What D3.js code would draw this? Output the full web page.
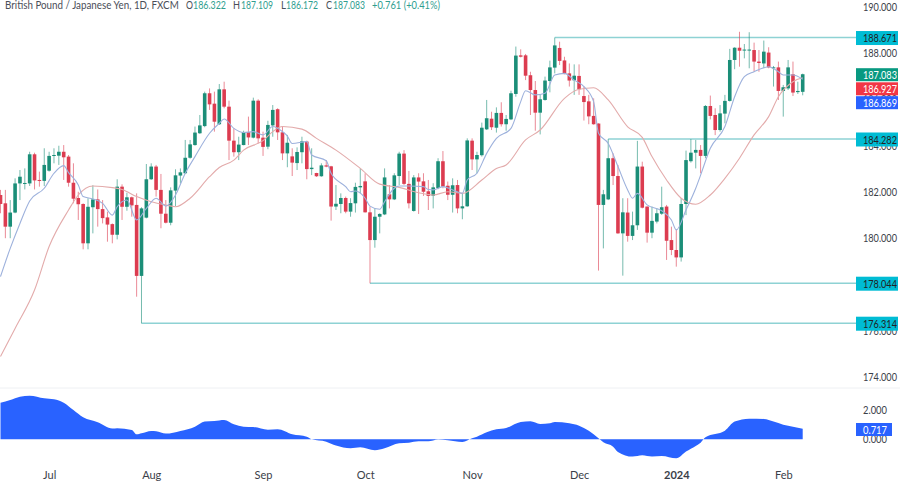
<!DOCTYPE html>
<html>
<head>
<meta charset="utf-8">
<script src="https://cdn.jsdelivr.net/npm/d3@7"></script>
<style>
  html, body { margin: 0; padding: 0; background: #fff; }
  svg { display: block; }
  text { font-family: Lato, "Open Sans", sans-serif; }
</style>
</head>
<body>
<div id="chart"></div>
<script>
// daily bars
const opens = [181.86,181.50,180.49,181.10,182.36,182.34,182.36,183.62,182.51,182.47,182.91,183.55,183.56,183.73,183.52,182.39,181.73,181.47,179.77,181.33,
  181.67,181.25,180.89,180.60,180.14,182.22,181.35,181.76,181.43,178.36,180.88,182.54,183.09,182.08,181.05,180.66,182.05,182.70,182.80,183.47,
  184.02,184.53,184.84,186.26,185.81,184.92,186.43,185.68,184.21,183.71,184.02,184.58,184.34,185.94,184.34,183.95,184.87,185.57,184.57,183.66,
  183.53,183.24,183.71,184.17,182.98,182.81,182.67,183.14,183.10,181.36,181.47,181.73,181.14,181.50,182.19,182.45,181.11,179.91,180.92,181.02,
  181.89,181.67,182.68,183.65,182.34,181.17,182.62,182.45,182.02,181.83,182.16,183.32,182.26,181.87,182.29,181.28,181.37,184.21,183.40,183.58,
  184.70,185.16,184.77,185.41,184.92,185.13,186.23,187.90,187.90,187.04,186.40,185.42,185.97,186.79,187.37,188.22,187.68,187.12,186.82,187.01,
  186.14,185.91,185.28,184.95,181.43,181.67,183.45,182.68,180.20,181.10,180.09,180.55,183.09,181.36,180.23,180.71,181.05,181.36,179.91,179.48,
  179.16,181.47,183.32,183.69,183.81,183.55,185.71,185.32,184.67,185.38,185.93,187.70,188.23,188.12,188.12,188.13,187.63,187.55,188.02,187.34,
  187.38,186.36,186.47,187.08,186.31,186.322];
const highs = [182.08,182.08,181.64,182.58,182.94,183.01,183.73,183.69,182.87,183.88,183.73,183.88,183.99,184.02,183.59,183.23,182.00,181.50,181.72,182.28,
  182.10,181.64,181.14,180.63,182.54,182.32,181.96,181.79,181.93,181.33,183.20,183.23,183.16,182.77,181.64,182.19,182.97,183.01,184.24,184.24,
  184.82,185.32,186.33,186.47,186.33,186.66,186.76,185.94,184.74,184.38,184.64,185.25,186.07,186.00,184.60,185.07,185.75,185.61,184.82,184.46,
  183.88,183.92,184.38,184.21,183.88,182.82,183.23,183.37,183.12,182.29,181.93,181.79,181.72,182.39,183.01,182.80,181.36,181.28,181.07,183.01,
  182.29,182.80,183.73,183.80,182.90,182.72,182.80,182.80,182.51,182.37,183.45,183.76,182.44,182.58,182.51,181.93,184.31,184.31,183.73,184.99,
  185.97,185.46,185.65,185.87,185.32,186.37,188.28,188.16,187.96,187.19,186.79,186.19,186.98,187.67,188.67,188.49,187.84,187.55,187.51,187.51,
  186.55,186.19,186.04,184.96,182.08,184.28,183.66,183.16,181.72,181.72,181.14,184.20,183.30,181.36,181.36,181.28,182.22,181.43,180.49,180.38,
  181.72,183.78,184.28,184.24,184.02,185.75,186.16,185.61,185.75,186.19,188.18,188.25,188.92,188.39,188.90,188.45,188.13,188.54,188.25,187.44,
  187.63,186.62,187.70,187.63,186.76,187.109];
const lows = [181.07,179.99,179.99,181.07,181.64,182.10,182.25,182.10,182.22,182.25,182.87,183.23,183.16,182.51,182.22,181.50,180.78,179.51,179.51,180.20,
  180.49,180.63,179.84,179.77,179.94,180.78,181.18,180.92,177.46,176.31,180.85,182.51,181.79,180.42,180.63,180.55,181.38,182.36,182.77,183.43,
  183.99,184.50,184.79,185.54,184.60,184.89,185.61,183.37,183.52,183.37,184.01,184.02,184.31,184.09,183.55,183.84,184.38,184.24,183.37,183.06,
  182.68,182.94,183.23,182.54,182.72,182.64,182.65,183.06,180.75,181.21,181.07,181.07,180.92,181.10,181.93,181.10,178.04,179.58,180.20,180.99,
  181.28,181.64,182.29,182.29,181.28,181.14,181.04,181.82,181.21,181.28,182.11,182.15,181.64,181.10,181.07,180.81,181.35,182.94,182.80,183.52,
  184.67,184.67,184.56,184.82,184.64,185.10,186.11,187.81,186.83,185.32,184.64,184.48,185.94,186.30,187.12,187.48,187.08,186.55,186.19,186.19,
  185.08,184.92,184.90,178.59,179.55,181.64,182.29,180.18,178.37,179.84,179.91,180.35,181.28,179.80,179.99,180.63,181.00,179.05,179.26,178.76,
  178.98,180.99,183.26,183.01,182.80,183.45,185.13,184.45,184.60,184.96,185.90,187.30,187.41,187.77,187.34,187.19,187.19,187.34,187.34,186.55,
  185.97,185.25,186.40,186.14,186.23,186.172];
const closes = [181.47,180.49,181.10,182.36,182.65,182.38,183.62,182.49,182.47,183.16,183.55,183.59,183.73,183.49,182.39,181.70,181.46,179.77,181.35,181.67,
  181.25,180.86,180.58,180.14,182.22,181.35,181.76,181.41,178.36,181.28,182.54,183.09,182.08,181.05,180.66,182.06,182.71,182.84,183.47,184.05,
  184.56,184.87,186.26,185.78,185.03,186.43,185.68,184.21,183.71,184.04,184.58,184.35,185.94,184.31,183.94,184.89,185.54,184.57,183.66,184.12,
  183.26,183.72,184.18,182.98,183.04,182.67,183.14,183.09,181.36,181.48,181.73,181.14,181.51,182.21,182.25,181.11,179.91,180.92,181.04,182.62,
  181.67,182.71,183.65,182.34,181.50,182.62,182.44,182.00,181.82,182.19,183.32,182.22,181.87,182.28,181.28,181.37,184.22,183.40,183.59,184.77,
  185.18,184.79,185.41,184.92,185.15,186.26,187.89,187.84,187.02,186.40,185.42,186.00,186.81,187.38,188.33,187.66,187.09,186.81,187.02,186.43,
  185.88,185.26,184.92,181.43,181.89,183.45,182.68,180.20,181.11,180.09,180.55,183.09,181.31,180.23,180.74,181.07,181.33,179.88,179.48,179.16,
  181.47,183.37,183.69,183.81,183.55,185.71,185.28,184.67,185.39,185.93,187.70,188.23,188.10,188.15,188.15,187.63,187.57,188.06,187.38,187.38,
  186.36,186.52,187.38,186.29,186.36,187.083];

// moving averages, as [bar numbers] + [values]
const fastBars = [1,3,5,7,10,12,14,15,17,18,20,22,24,25,27,29,31,33,35,37,39,41,44,46,47,49,51,53,55,57,59,60,61,64,65,68,69,72,73,74,76,77,79,80,82,83,85,88,89,90,92,94,96,97,99,101,103,106,108,109,111,113,115,117,119,121,123,124,126,128,130,131,132,134,137,139,140,142,144,145,147,150,152,154,156,159,161,162,164,166];
const fastMa = [178.33,179.55,180.63,181.60,182.15,182.80,183.13,182.83,182.29,181.79,181.69,181.50,180.99,181.35,181.64,180.78,181.28,181.72,181.38,181.86,182.80,183.52,184.53,184.96,185.15,184.74,184.56,184.60,184.46,184.82,184.60,184.41,184.09,184.17,183.59,183.34,182.80,182.22,182.00,182.03,181.72,181.38,181.24,181.57,182.15,182.25,182.25,182.22,182.10,182.08,182.22,182.08,181.93,182.51,182.80,183.66,184.31,184.74,185.90,186.37,186.19,186.26,187.05,187.12,186.83,186.55,185.90,184.53,184.09,183.09,182.08,181.72,181.93,181.43,181.18,180.78,180.35,181.21,182.15,182.72,183.88,184.82,186.11,186.98,187.19,187.41,187.19,187.05,187.05,186.869];
const slowBars = [1,4,8,11,15,17,20,24,26,29,32,35,37,40,44,46,49,51,55,57,59,63,66,70,75,79,83,87,90,93,96,100,103,105,109,112,117,120,123,126,130,133,135,138,141,144,147,150,153,156,159,161,164,166];
const slowMa = [174.87,176.09,177.75,179.63,181.21,181.86,182.25,182.18,182.10,181.79,181.57,181.43,181.35,181.72,182.65,183.05,183.37,183.80,184.21,184.60,184.82,184.71,184.31,183.80,183.01,182.33,182.19,181.96,181.86,182.00,181.93,182.51,183.01,183.16,184.24,184.67,186.04,186.43,186.50,185.97,184.81,184.35,183.52,182.51,181.72,181.46,181.86,182.58,183.45,184.46,185.25,186.11,186.76,186.927];

// lower panel
const oscBars = [1,3,5,7,10,12,14,16,18,21,24,25,28,29,30,32,33,35,38,41,43,45,47,49,51,53,56,58,61,64,65,68,70,73,75,78,80,83,85,87,89,91,93,96,98,99,101,103,105,108,110,112,114,115,118,120,122,124,125,127,128,131,133,135,137,140,142,144,145,146,150,152,155,158,160,162,163,166];
const oscValues = [2.50,2.68,2.91,2.98,2.80,2.73,2.50,2.00,1.50,1.16,0.73,0.75,0.64,0.34,0.41,0.57,0.55,0.39,0.57,0.86,1.21,1.25,1.32,1.02,0.86,0.84,0.66,0.68,0.34,0.18,0,-0.16,-0.43,-0.61,-0.55,-0.75,-0.61,-0.27,-0.23,-0.14,-0.14,-0.02,-0.07,-0.18,0.07,0.18,0.48,0.68,0.77,1.18,1.23,1.05,1.09,1.18,1.09,0.93,0.59,0.07,-0.20,-0.50,-0.86,-1.18,-1.09,-1.18,-1.14,-1.30,-0.84,-0.46,-0.23,0.14,0.59,1.21,1.41,1.39,1.21,1.00,0.93,0.717];

// horizontal levels
const levelPrices = [188.671,184.282,178.044,176.314];
const levelBars = [115,126,77,30];

// axes
const priceTicks = [190,188,186,184,182,180,178,176,174];
const oscTicks = [2,0];
const monthBars = [11,32,55,76,98,120,140,162];
const monthLabels = ['Jul','Aug','Sep','Oct','Nov','Dec','2024','Feb'];

// price tags on the right
const tagValues = [187.083,186.927,186.869];
const tagColors = ['#089981','#f23645','#2962ff'];
const tagYs = [74.7,88.8,102.7];

// header
const headLabels = ['British Pound / Japanese Yen, 1D, FXCM','O','186.322','H','187.109','L','186.172','C','187.083','+0.761 (+0.41%)'];
const headX = [5,186,193,233,241,281,286,326,333,372];
const headW = [174,7,33,7,32,5,32,6,32,68];

const width = 900, height = 484;
const upColor = '#1b8e78', downColor = '#dc3c50';
const levelColor = '#8ed2d4', tagCyan = '#00bcd4';
const textColor = '#3a3e48';
const numW = 34, oscW = 24; // the picture's numbers are narrower than Lato's

const svg = d3.select('#chart').append('svg').attr('width', width).attr('height', height);

const x = d3.scaleLinear().domain([1, 166]).range([0.5, 802.7]);
const y = d3.scaleLinear().domain([190, 174]).range([6.8, 376.7]);
const yOsc = d3.scaleLinear().domain([0, 2]).range([439.3, 410]);

// squeeze a text to width w, call it after the text is set
const fit = (sel, w) => sel.each(function(d, i) {
  const t = d3.select(this);
  const x0 = +t.attr('x') || 0, y0 = +t.attr('y') || 0;
  const target = typeof w === 'function' ? w(d, i) : w;
  const k = target / this.getComputedTextLength();
  t.attr('x', 0).attr('y', 0).attr('transform', `translate(${x0},${y0}) scale(${k},1)`);
});

// panel separator
svg.append('line').attr('x1', 0).attr('x2', width).attr('y1', 388).attr('y2', 388).attr('stroke', '#eef0f3');

// axes go first, level tags sit on top of them
const priceAxis = d3.axisRight(y).tickValues(priceTicks).tickFormat(d3.format('.3f')).tickSize(0).tickPadding(0);
const gPrice = svg.append('g').attr('transform', 'translate(863,0)').call(priceAxis);
gPrice.select('.domain').remove();
gPrice.selectAll('text').attr('font-size', 11.5).attr('fill', textColor).style('font-family', 'Lato').call(fit, numW);

const oscAxis = d3.axisRight(yOsc).tickValues(oscTicks).tickFormat(d3.format('.3f')).tickSize(0).tickPadding(0);
const gOsc = svg.append('g').attr('transform', 'translate(863,0)').call(oscAxis);
gOsc.select('.domain').remove();
gOsc.selectAll('text').attr('font-size', 11.5).attr('fill', textColor).style('font-family', 'Lato').call(fit, oscW);

const monthAxis = d3.axisBottom(x).tickValues(monthBars).tickFormat((d, i) => monthLabels[i]).tickSize(0).tickPadding(0);
const gMonth = svg.append('g').attr('transform', 'translate(0,471)').call(monthAxis);
gMonth.select('.domain').remove();
gMonth.selectAll('text').attr('font-size', 11).attr('fill', textColor).style('font-family', 'Lato')
  .attr('font-weight', (d, i) => monthLabels[i] === '2024' ? 'bold' : 'normal');

// level lines
svg.append('g').selectAll('line').data(levelPrices).enter().append('line')
  .attr('x1', (d, i) => x(levelBars[i])).attr('x2', 857)
  .attr('y1', d => y(d)).attr('y2', d => y(d))
  .attr('stroke', levelColor).attr('stroke-width', 1.4);

// candles
const bars = d3.range(opens.length).map(i => ({
  bar: i + 1, o: opens[i], h: highs[i], l: lows[i], c: closes[i]
}));
const candle = svg.append('g').selectAll('g').data(bars).enter().append('g');
const barColor = d => d.c >= d.o ? upColor : downColor;
candle.append('line')
  .attr('x1', d => x(d.bar)).attr('x2', d => x(d.bar))
  .attr('y1', d => y(d.h)).attr('y2', d => y(d.l))
  .attr('stroke', barColor).attr('stroke-opacity', 0.6);
candle.append('rect')
  .attr('x', d => x(d.bar) - 1.8).attr('width', 3.6)
  .attr('y', d => y(Math.max(d.o, d.c)))
  .attr('height', d => Math.max(1, Math.abs(y(d.o) - y(d.c))))
  .attr('fill', barColor);

// moving averages
const maLine = bars_ => d3.line().x((d, i) => x(bars_[i])).y(d => y(d)).curve(d3.curveMonotoneX);
svg.append('path').datum(slowMa).attr('d', maLine(slowBars)).attr('fill', 'none').attr('stroke', '#e3abab').attr('stroke-width', 1.1);
svg.append('path').datum(fastMa).attr('d', maLine(fastBars)).attr('fill', 'none').attr('stroke', '#9db1dc').attr('stroke-width', 1.1);

// lower panel area
const oscArea = d3.area().x((d, i) => x(oscBars[i])).y0(yOsc(0)).y1(d => yOsc(d)).curve(d3.curveMonotoneX);
svg.append('path').datum(oscValues).attr('d', oscArea).attr('fill', '#2962ff');

// level tags
const tag = svg.append('g').selectAll('g').data(levelPrices).enter().append('g');
tag.append('rect').attr('x', 856).attr('width', 42).attr('y', d => y(d) - 6.5).attr('height', 14).attr('fill', tagCyan);
tag.append('text').attr('x', 863).attr('y', d => y(d) + 0.5).attr('dy', '0.35em')
  .attr('font-size', 11.5).attr('fill', '#222').text(d => d3.format('.3f')(d)).call(fit, numW);

// last value tags
const lastTag = svg.append('g').selectAll('g').data(tagValues).enter().append('g');
lastTag.append('rect').attr('x', 856).attr('width', 42).attr('y', (d, i) => tagYs[i] - 6.5).attr('height', 13).attr('fill', (d, i) => tagColors[i]);
lastTag.append('text').attr('x', 863).attr('y', (d, i) => tagYs[i]).attr('dy', '0.35em')
  .attr('font-size', 11.5).attr('fill', '#fff').text(d => d3.format('.3f')(d)).call(fit, numW);

svg.append('rect').attr('x', 856).attr('y', 423).attr('width', 36).attr('height', 13).attr('fill', '#2962ff');
svg.append('text').attr('x', 863).attr('y', 429.5).attr('dy', '0.35em')
  .attr('font-size', 11.5).attr('fill', '#fff').text(d3.format('.3f')(oscValues[oscValues.length - 1])).call(fit, oscW);

// header
svg.append('g').selectAll('text').data(headLabels).enter().append('text')
  .attr('x', (d, i) => headX[i]).attr('y', 5).attr('dy', '0.35em')
  .attr('font-size', 11.5)
  .attr('fill', (d, i) => (i === 0 || i === 1 || i === 3 || i === 5 || i === 7) ? '#4a4e58' : '#2f9e8f')
  .text(d => d)
  .call(fit, (d, i) => headW[i]);
</script>
</body>
</html>
